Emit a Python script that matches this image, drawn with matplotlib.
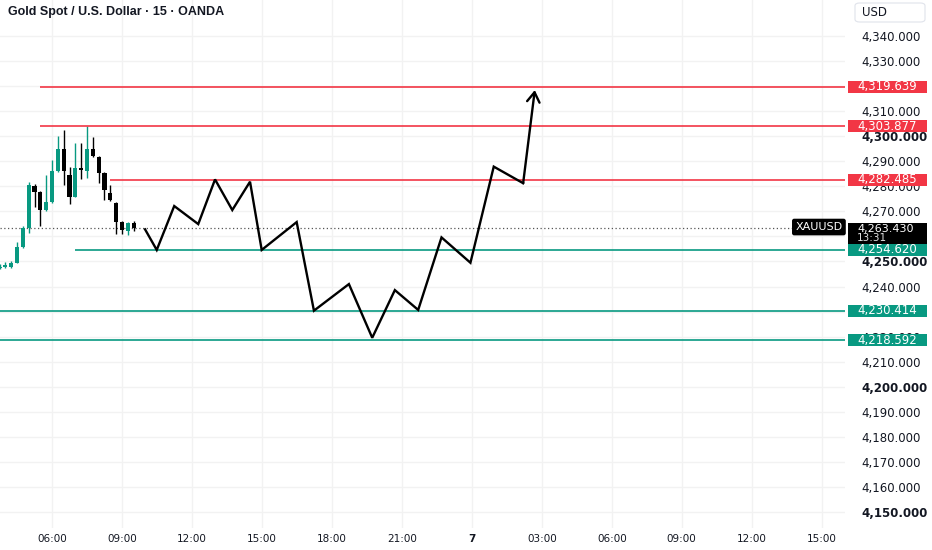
import matplotlib.pyplot as plt
from matplotlib.patches import Rectangle, FancyBboxPatch
from matplotlib.transforms import blended_transform_factory

# 15 min candles, time in hours from 6 Dec 00:00
candle_time = [3.75, 4.0, 4.25, 4.5, 4.75, 5.0, 5.25, 5.5, 5.75, 6.0, 6.25, 6.5,
               6.75, 7.0, 7.25, 7.5, 7.75, 8.0, 8.25, 8.5, 8.75, 9.0, 9.25, 9.5]
opens = [4247.4, 4247.8, 4247.9, 4249.5, 4255.9, 4263.3, 4280.2, 4277.8, 4270.5, 4273.8, 4286.1, 4294.7,
         4284.5, 4275.8, 4287.4, 4286.1, 4294.7, 4291.8, 4285.4, 4277.2, 4273.4, 4265.9, 4262.3, 4265.2]
highs = [4249.0, 4249.8, 4250.3, 4257.9, 4264.1, 4281.7, 4280.9, 4278.1, 4284.5, 4290.4, 4300.0, 4302.4,
         4287.8, 4297.1, 4297.2, 4304.0, 4299.7, 4292.0, 4285.7, 4280.5, 4273.6, 4266.2, 4265.6, 4266.1]
lows = [4247.0, 4247.4, 4247.5, 4249.4, 4255.5, 4261.4, 4271.8, 4264.1, 4270.3, 4273.4, 4285.7, 4280.5,
        4272.8, 4275.6, 4282.9, 4283.4, 4291.6, 4281.2, 4274.5, 4274.3, 4260.8, 4261.0, 4260.6, 4262.2]
closes = [4248.0, 4248.6, 4249.5, 4255.9, 4263.3, 4280.5, 4277.8, 4270.5, 4273.8, 4286.1, 4294.7, 4286.1,
          4275.8, 4287.1, 4286.5, 4294.7, 4292.0, 4285.4, 4278.5, 4274.5, 4265.9, 4262.5, 4265.2, 4263.2]
last_price = 4263.430
last_time_label = "13:31"

# projected path drawn on the chart
path_time = [9.99, 10.49, 11.24, 12.27, 12.99, 13.73, 14.49, 14.99, 16.49, 17.23,
             18.73, 19.73, 20.70, 21.70, 22.70, 23.94, 24.94, 26.20, 26.70]
path_price = [4262.8, 4254.6, 4272.1, 4264.9, 4282.7, 4270.5, 4281.8, 4254.6, 4265.7, 4230.4,
              4241.0, 4219.6, 4238.6, 4230.7, 4259.6, 4249.5, 4287.8, 4281.2, 4318.3]

# horizontal levels (price, start time, resistance or support)
level_price = [4319.639, 4303.877, 4282.485, 4254.620, 4230.414, 4218.592]
level_start = [5.49, 5.49, 8.49, 6.99, 3.77, 3.77]
level_kind = ['res', 'res', 'res', 'sup', 'sup', 'sup']

x_ticks = [6, 9, 12, 15, 18, 21, 24, 27, 30, 33, 36, 39]
x_labels = ['06:00', '09:00', '12:00', '15:00', '18:00', '21:00', '7',
            '03:00', '06:00', '09:00', '12:00', '15:00']
y_ticks = list(range(4150, 4341, 10))
# labels fully covered by price tags in the original are not shown
y_hidden = [4320, 4260, 4230]

RED = '#F23645'
GREEN = '#089981'
TXT = '#131722'

fig = plt.figure(figsize=(9.32, 5.5), dpi=100)
ax = fig.add_axes([0, 0.04, 845 / 932, 0.96])
ax.set_xlim(3.77, 40.0)
ax.set_ylim(4143.8, 4354.2)

# grid
for t in x_ticks:
    ax.axvline(t, color='#f2f2f2', lw=1, zorder=0)
for p in y_ticks:
    ax.axhline(p, color='#f2f2f2', lw=1, zorder=0)

# candles
for t, o, h, l, c in zip(candle_time, opens, highs, lows, closes):
    col = GREEN if c >= o else 'black'
    ax.vlines(t, l, h, color=col, lw=1, zorder=3)
    ax.bar(t, max(abs(c - o), 0.4), bottom=min(o, c), width=0.18, color=col, zorder=3)

# last price dotted line
ax.axhline(last_price, color='#555555', lw=0.9, ls=(0, (1, 2)), zorder=2)

# levels
for p, s, k in zip(level_price, level_start, level_kind):
    ax.hlines(p, s, 40.0, color=RED if k == 'res' else GREEN, lw=1.2, zorder=4)

# path + arrow
ax.plot(path_time[:-1], path_price[:-1], color='black', lw=1.7, zorder=5,
        solid_joinstyle='miter')
ax.annotate('', xy=(path_time[-1], path_price[-1]), xytext=(path_time[-2], path_price[-2]),
            arrowprops=dict(arrowstyle='->,head_length=0.7,head_width=0.45', lw=1.7,
                            color='black', shrinkA=0, shrinkB=0), zorder=5)

for sp in ax.spines.values():
    sp.set_visible(False)

ax.set_xticks(x_ticks)
ax.set_xticklabels(x_labels)
ax.tick_params(axis='x', length=0, pad=4, labelsize=7.5, labelcolor=TXT)
ax.get_xticklabels()[6].set_fontweight('bold')

ax.yaxis.tick_right()
ax.set_yticks(y_ticks)
ax.set_yticklabels(['' if v in y_hidden else f"{v:,.3f}" for v in y_ticks])
ax.tick_params(axis='y', length=0, pad=12, labelsize=8.5, labelcolor=TXT)
for lbl, v in zip(ax.get_yticklabels(), y_ticks):
    if v % 50 == 0:
        lbl.set_fontweight('bold')

# price tags on the right axis
tr = blended_transform_factory(ax.transAxes, ax.transData)
x0 = 1 + 3 / 845
w = 79 / 845
for p, k in zip(level_price, level_kind):
    ax.add_patch(Rectangle((x0, p - 2.35), w, 4.7, transform=tr, clip_on=False,
                           fc=RED if k == 'res' else GREEN, ec='none', zorder=10))
    ax.text(1 + 12 / 845, p, f"{p:,.3f}", transform=tr, ha='left', va='center',
            color='white', fontsize=8.5, clip_on=False, zorder=11)

# last price tag
ax.add_patch(Rectangle((x0, 4256.8), w, 8.7, transform=tr, clip_on=False,
                       fc='black', ec='none', zorder=12))
ax.text(1 + 12 / 845, last_price - 0.5, f"{last_price:,.3f}", transform=tr,
        ha='left', va='center', color='white', fontsize=8, clip_on=False, zorder=13)
ax.text(1 + 12 / 845, last_price - 4.2, last_time_label, transform=tr,
        ha='left', va='center', color='#e0e0e0', fontsize=7.5, clip_on=False, zorder=13)
ax.text(0.997, last_price + 0.3, "XAUUSD", transform=tr, ha='right', va='center', color='white',
        fontsize=8, zorder=11,
        bbox=dict(boxstyle='round,pad=0.3,rounding_size=0.2', fc='black', ec='none'))

# title and currency box
fig.text(8 / 932, 1 - 12 / 550, "Gold Spot / U.S. Dollar · 15 · OANDA", ha='left', va='center',
         fontsize=9, fontweight='bold', family='Liberation Sans', color=TXT)
fig.patches.append(FancyBboxPatch((855 / 932, 1 - 22 / 550), 70 / 932, 19 / 550,
                                  boxstyle='round,pad=0,rounding_size=0.005',
                                  transform=fig.transFigure, fc='white', ec='#e0e3eb', lw=0.8))
fig.text(862 / 932, 1 - 12.5 / 550, "USD", ha='left', va='center', fontsize=8.5, color=TXT)

fig.savefig('out.png', dpi=100, facecolor='white')
